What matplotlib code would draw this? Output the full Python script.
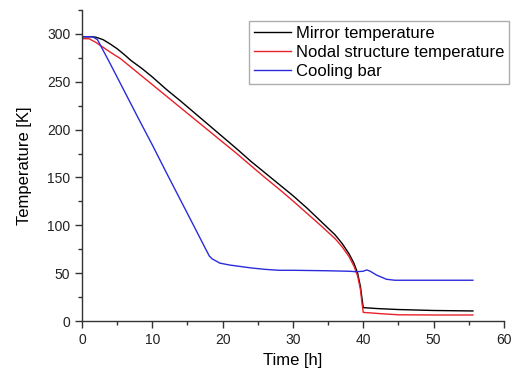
import matplotlib
matplotlib.use("Agg")
import matplotlib.pyplot as plt
from matplotlib.ticker import MultipleLocator

plt.rcParams['font.family'] = ['Liberation Sans', 'DejaVu Sans']

# readings from the chart (time in h, temperature in K)
mirror_t = [0, 1.5, 2, 3, 4, 5, 6, 7, 8.5, 10, 12, 14, 16, 18, 20, 22, 24, 26, 28, 30,
            32, 34, 36, 37, 38, 38.7, 39.2, 39.6, 39.8, 40, 42, 45, 50, 55.6]
mirror_T = [297, 297, 296.5, 294, 289.5, 284.5, 278.5, 272, 264, 255, 242, 230, 217.5,
            205, 192.5, 180, 167, 155, 143, 131, 118, 104, 90, 81, 70, 60, 50, 36, 25,
            14, 13, 12, 11, 10.5]

nodal_t = [0, 1, 2, 3, 4, 5.5, 7, 8.5, 10, 12, 14, 16, 18, 20, 22, 24, 26, 28, 30,
           32, 34, 36, 37, 38, 38.7, 39.2, 39.6, 39.8, 40, 41, 42.4, 45, 50, 55.6]
nodal_T = [295, 295, 291, 286, 281, 274, 265, 256, 247, 235, 223, 211, 199, 187, 175,
           162.5, 150, 138, 125.5, 112.5, 99.5, 86, 77.5, 67, 57, 47, 33, 20, 9, 8.5,
           7.7, 6.5, 6.3, 6.3]

bar_t = [0, 1.5, 2.2, 4, 6, 8, 10, 12, 14, 16, 17.5, 18.1, 18.5, 19.6, 21, 24, 26, 28,
         30, 35, 38, 39, 40, 40.5, 41, 41.9, 43.3, 44.5, 55.6]
bar_T = [297, 297, 294, 269, 240.5, 212, 184, 155, 126.5, 98, 76.5, 68, 65, 60.5, 58.5,
         55.5, 54, 53, 53, 52.5, 52, 51.5, 52, 53.4, 52, 48, 43.6, 42.6, 42.6]

labels = ["Mirror temperature", "Nodal structure temperature", "Cooling bar"]
colors = ["black", "#e8202a", "#2b2bdc"]

fig = plt.figure(figsize=(5.11, 3.70), dpi=100)
ax = fig.add_axes([0.1605, 0.1324, 0.8255, 0.8406])

ax.plot(mirror_t, mirror_T, color=colors[0], lw=1.0, label=labels[0])
ax.plot(nodal_t, nodal_T, color=colors[1], lw=1.0, label=labels[1])
ax.plot(bar_t, bar_T, color=colors[2], lw=1.0, label=labels[2])

ax.set_xlim(0, 60)
ax.set_ylim(0, 325)
ax.xaxis.set_major_locator(MultipleLocator(10))
ax.xaxis.set_minor_locator(MultipleLocator(5))
ax.yaxis.set_major_locator(MultipleLocator(50))
ax.yaxis.set_minor_locator(MultipleLocator(25))

for side in ("top", "right"):
    ax.spines[side].set_visible(False)
for side in ("left", "bottom"):
    ax.spines[side].set_color("#333333")
    ax.spines[side].set_linewidth(1.0)

ax.tick_params(which="major", direction="out", length=5, width=1, labelsize=10,
               color="#333333", labelcolor="#222222")
ax.tick_params(which="minor", direction="out", length=3, width=1, color="#333333")

ax.set_xlabel("Time [h]", fontsize=12, labelpad=4.5)
ax.set_ylabel("Temperature [K]", fontsize=12, labelpad=11)

leg = ax.legend(loc="upper left", bbox_to_anchor=(0.396, 0.965), fontsize=12,
                frameon=True, fancybox=False, edgecolor="#999999",
                handlelength=2.2, labelspacing=0.25, borderpad=0.3,
                handletextpad=0.3, borderaxespad=0)
leg.get_frame().set_linewidth(1.0)

fig.savefig("out.png", dpi=100)
